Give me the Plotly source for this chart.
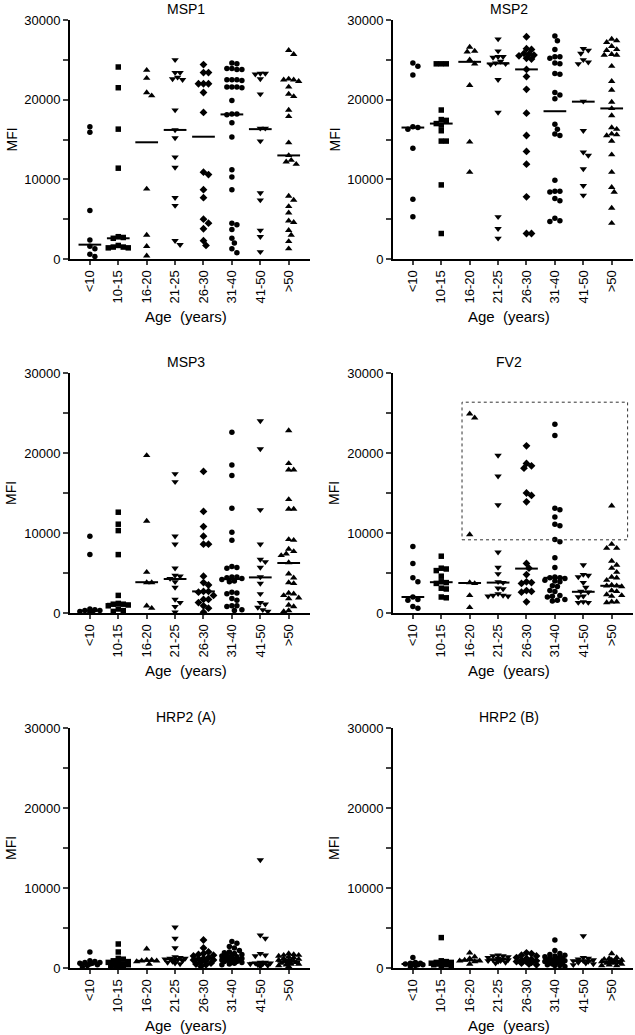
import plotly.graph_objects as go

# ---------------- data ----------------
CATEGORIES = ["<10", "10-15", "16-20", "21-25", "26-30", "31-40", "41-50", ">50"]
SYMBOLS = ["circle", "square", "triangle-up", "triangle-down", "diamond",
           "circle", "triangle-down", "triangle-up"]
Y_TICKS = [0, 5000, 10000, 15000, 20000, 25000, 30000]
Y_TICKTEXT = ["0", "", "10000", "", "20000", "", "30000"]

msp1 = [
    [16600, 15900, 6100, 2400, 1600, 1300, 600, 300],
    [24100, 21500, 16300, 11400, 2800, 2700, 2600, 1700, 1500, 1400, 1400, 1500],
    [23700, 22700, 20500, 20900, 8800, 3000, 1600, 400],
    [25000, 23400, 23400, 22800, 22500, 22600, 18700, 16200, 15200, 12800, 11500, 7700, 6700, 1800, 2300],
    [24400, 23400, 23400, 22000, 22000, 22000, 20900, 18400, 10600, 10900, 8700, 7700, 5000, 4500, 3800, 2300, 1700],
    [24500, 24600, 23900, 23800, 23800, 23900, 22500, 22500, 22400, 22500, 21600, 21600, 21500, 21600, 19900,
     18200, 18100, 18200, 17100, 15300, 11200, 10300, 8700, 4500, 4300, 3700, 2600, 2000, 1300, 800],
    [23300, 23200, 23300, 22600, 20700, 16400, 16400, 14800, 8300, 7400, 3600, 2800, 900],
    [26200, 25700, 22500, 22300, 22500, 22600, 21600, 20700, 20400, 18700, 17900, 14600, 13000, 12400, 12200,
     11900, 7900, 7400, 6600, 5800, 4800, 4600, 3600, 3000, 2200, 1300],
]
msp1_median = [1800, 2600, 14650, 16200, 15350, 18150, 16300, 13000]

msp2 = [
    [24600, 24200, 23100, 16500, 16300, 16600, 13900, 7500, 5300],
    [24500, 24500, 24500, 18700, 17400, 17000, 17500, 16800, 16100, 14800, 14800, 9300, 3200],
    [26600, 26100, 26000, 25000, 24500, 21800, 14700, 10900],
    [27600, 26100, 25400, 25300, 25400, 24800, 24600, 24500, 24400, 22500, 18400, 5300, 3800, 2600],
    [27900, 26400, 26300, 25800, 25600, 25500, 25700, 25200, 25100, 23800, 22900, 21300, 18300, 15500, 13500,
     11900, 7800, 3200, 3200],
    [28000, 27400, 26300, 25400, 25400, 25200, 24600, 24500, 23300, 23200, 20900, 20600, 20100, 16900, 16300,
     15700, 15500, 9900, 8500, 8400, 8500, 7600, 7300, 5100, 4700, 4800],
    [26400, 26200, 25800, 25000, 24700, 24500, 19800, 16100, 13400, 13000, 11300, 9200, 8000],
    [27600, 27400, 27200, 26700, 26300, 26200, 25600, 25700, 25600, 24200, 22300, 21200, 19700, 18900, 18000,
     16300, 16500, 15700, 15500, 15600, 14800, 13100, 10900, 9000, 8400, 6400, 4500],
]
msp2_median = [16500, 17000, 24750, 24550, 23800, 18550, 19750, 18900]

msp3 = [
    [9600, 7300, 500, 400, 300, 300, 200, 200, 100],
    [12600, 11100, 10300, 7300, 2200, 1200, 1100, 1100, 1000, 900, 500, 300, 200],
    [19700, 11500, 5100, 3800, 3800, 900, 600],
    [17400, 16400, 9600, 8600, 5600, 4600, 4700, 4300, 3900, 3200, 1700, 1300, 800, 100],
    [17700, 12700, 10800, 9600, 8600, 8600, 4600, 3800, 3500, 2700, 2600, 2700, 2200, 1700, 1700, 1300, 900, 600, 100],
    [22600, 18500, 17200, 13100, 10100, 9100, 5800, 5700, 5600, 4500, 4400, 4500, 4300, 4200, 3900, 4000,
     2600, 2500, 2400, 1800, 1600, 900, 900, 800, 400, 300],
    [24000, 20500, 12900, 8600, 6700, 6400, 5700, 4500, 3700, 2400, 1300, 1100, 700, 400, 200],
    [22800, 18700, 17900, 17900, 14200, 13000, 13000, 9200, 9100, 8000, 7700, 7400, 7200, 6300, 4900, 4400,
     3700, 3800, 2500, 2400, 2200, 1900, 1800, 1000, 800, 300, 200],
]
msp3_median = [300, 1150, 3850, 4250, 2700, 4250, 4450, 6250]

fv2 = [
    [8300, 6200, 4400, 3900, 2000, 1700, 1600, 800, 600],
    [7100, 5600, 5500, 5300, 4600, 3900, 3800, 3700, 3000, 3100, 1900, 2000],
    [24900, 24400, 9800, 3800, 3700, 2200, 700],
    [19700, 17100, 13500, 7600, 5700, 4900, 3900, 3800, 3100, 3000, 2400, 2200, 2100, 2100, 2200],
    [20900, 18700, 18100, 18400, 14700, 15000, 13900, 6200, 5600, 4800, 3900, 3800, 3700, 2800, 2700, 2600, 1400],
    [23600, 22200, 13100, 12900, 12000, 11100, 10900, 9200, 8900, 6900, 5700, 4500, 4400, 4400, 4300, 4100,
     4000, 3900, 3400, 3300, 2800, 2700, 2200, 2100, 2000, 1700, 1600, 1500],
    [6000, 4800, 4700, 4500, 3800, 3200, 2700, 2600, 2100, 2000, 1400, 1300, 1300],
    [13400, 8600, 8100, 8100, 6500, 6000, 5600, 5100, 4500, 4400, 4100, 3500, 3400, 3400, 3300, 2800, 2700,
     2300, 2200, 2100, 1400, 1400, 1300],
]
fv2_median = [2000, 3850, 3750, 3800, 5550, 4400, 2650, 3400]
fv2_box_x = [1.73, 7.56]
fv2_box_y = [9150, 26350]

hrp2a = [
    [2000, 900, 800, 700, 700, 600, 600, 500, 400, 300, 200],
    [3000, 2000, 1200, 1100, 900, 800, 700, 600, 500, 500, 400, 400, 300, 300, 200, 100],
    [2400, 1000, 1000, 900, 900, 800, 500],
    [5100, 3700, 2500, 1400, 1300, 1200, 1200, 1100, 1000, 1000, 900, 800, 700, 600, 500],
    [3500, 2500, 2000, 1800, 1700, 1600, 1500, 1300, 1200, 1100, 1000, 1000, 900, 700, 600, 500, 400, 200],
    [3300, 3100, 2700, 2500, 2200, 2000, 1900, 1800, 1700, 1600, 1600, 1500, 1400, 1300, 1300, 1200, 1200,
     1100, 1100, 1000, 1000, 900, 900, 800, 800, 700, 600, 500, 400],
    [13500, 4100, 3700, 1800, 1600, 1500, 700, 700, 600, 600, 500, 500, 400, 300, 200],
    [1800, 1700, 1600, 1600, 1500, 1400, 1300, 1200, 1100, 1000, 1000, 900, 900, 800, 800, 700, 700, 600,
     500, 500, 400, 300, 200],
]
hrp2a_median = [600, 550, 900, 1100, 1200, 1200, 650, 800]

hrp2b = [
    [1300, 700, 600, 600, 500, 500, 400, 400, 300, 200],
    [3800, 900, 800, 700, 700, 600, 600, 600, 500, 500, 400, 400, 300, 200],
    [1900, 1400, 1200, 1000, 900, 900, 800, 500],
    [1600, 1500, 1500, 1400, 1300, 1200, 1100, 1000, 1000, 900, 900, 800, 700, 600],
    [1900, 1800, 1600, 1500, 1300, 1200, 1100, 1000, 900, 800, 800, 700, 600, 500, 400],
    [3500, 2200, 1800, 1700, 1600, 1500, 1400, 1400, 1300, 1200, 1200, 1100, 1000, 1000, 900, 900, 800, 800,
     700, 700, 600, 500, 400, 300, 300, 200],
    [4000, 1300, 1200, 1100, 1000, 900, 900, 800, 700, 600, 500, 400],
    [1800, 1300, 1200, 1100, 1000, 1000, 900, 900, 800, 800, 700, 700, 600, 600, 500, 400, 300, 300],
]
hrp2b_median = [500, 600, 950, 1050, 900, 1000, 900, 800]

PANELS = [
    ("MSP1", msp1, msp1_median),
    ("MSP2", msp2, msp2_median),
    ("MSP3", msp3, msp3_median),
    ("FV2", fv2, fv2_median),
    ("HRP2 (A)", hrp2a, hrp2a_median),
    ("HRP2 (B)", hrp2b, hrp2b_median),
]

# ---------------- layout geometry (pixels) ----------------
W, H = 635, 1035
COLS = [(70, 310), (393, 633)]
ROWS = [(20, 259), (373, 613), (728, 968)]
X_RANGE = [-0.7, 7.75]
Y_MAX = 30000
FONT = "Arial, Liberation Sans, sans-serif"


def swarm_offsets(values, ppx_x, ppx_y, d=5.0, cap=11.0):
    """Deterministic beeswarm: spread points with similar values sideways,
    limited to +-cap pixels (crowded points overlap, as in the original)."""
    placed = []
    out = [0.0] * len(values)
    order = sorted(range(len(values)), key=lambda i: -values[i])
    cands = [0.0]
    j = 1
    while j * d / 2 <= cap:
        cands += [j * d / 2, -j * d / 2]
        j += 1
    for i in order:
        y = values[i] * ppx_y
        best, best_score = 0.0, -1.0
        for c in cands:
            md = min([((c - px) ** 2 + (y - py) ** 2) ** 0.5 for px, py in placed] or [99])
            if md >= d * 0.97:
                best = c
                break
            if md > best_score + 0.5:
                best, best_score = c, md
        placed.append((best, y))
        out[i] = best / ppx_x
    return out


fig = go.Figure()
layout = dict(width=W, height=H, margin=dict(l=0, r=0, t=0, b=0, autoexpand=False),
              plot_bgcolor="white", paper_bgcolor="white", showlegend=False,
              font=dict(family=FONT, color="black", size=13))
annotations = []

for k, (title, data, med) in enumerate(PANELS):
    r, c = divmod(k, 2)
    x0, x1 = COLS[c]
    ytop, ybot = ROWS[r]
    n = k + 1
    xa = "xaxis" if n == 1 else f"xaxis{n}"
    ya = "yaxis" if n == 1 else f"yaxis{n}"
    xr = "x" if n == 1 else f"x{n}"
    yr = "y" if n == 1 else f"y{n}"
    ppx_x = (x1 - x0) / (X_RANGE[1] - X_RANGE[0])
    ppx_y = (ybot - ytop) / Y_MAX

    layout[xa] = dict(domain=[x0 / W, x1 / W], range=X_RANGE, anchor=yr,
                      tickmode="array", tickvals=list(range(len(CATEGORIES))),
                      ticktext=CATEGORIES, tickangle=-90, ticks="outside", ticklen=4,
                      tickwidth=1.5, showline=True, linewidth=2, linecolor="black",
                      showgrid=False, zeroline=False, tickfont=dict(size=13),
                      fixedrange=True, automargin=False)
    layout[ya] = dict(domain=[1 - ybot / H, 1 - ytop / H], range=[0, Y_MAX], anchor=xr,
                      tickmode="array", tickvals=Y_TICKS, ticktext=Y_TICKTEXT,
                      ticks="outside", ticklen=5, tickwidth=1.5, showline=True,
                      linewidth=2, linecolor="black", showgrid=False, zeroline=False,
                      tickfont=dict(size=13), fixedrange=True, automargin=False)

    for i, vals in enumerate(data):
        offs = swarm_offsets(vals, ppx_x, ppx_y)
        sym = SYMBOLS[i]
        size = 6.5 if "triangle" in sym else (6 if sym == "diamond" else 5.5)
        fig.add_trace(go.Scatter(
            x=[i + o for o in offs], y=vals, xaxis=xr, yaxis=yr, mode="markers",
            marker=dict(symbol=sym, size=size, color="black", line=dict(width=0)),
            cliponaxis=False, hoverinfo="y"))

    mx, my = [], []
    for i, m in enumerate(med):
        mx += [i - 0.4, i + 0.4, None]
        my += [m, m, None]
    fig.add_trace(go.Scatter(x=mx, y=my, xaxis=xr, yaxis=yr, mode="lines",
                             line=dict(color="black", width=2), hoverinfo="skip"))

    cx = (x0 + x1) / 2 - 4
    annotations.append(dict(text=title, x=cx / W, y=1 - (ytop - 11) / H, xref="paper",
                            yref="paper", showarrow=False, font=dict(size=14),
                            xanchor="center", yanchor="middle"))
    annotations.append(dict(text="Age  (years)", x=cx / W, y=1 - (ybot + 57) / H,
                            xref="paper", yref="paper", showarrow=False,
                            font=dict(size=15), xanchor="center", yanchor="middle"))
    annotations.append(dict(text="MFI", x=(x0 - 59) / W, y=1 - ((ytop + ybot) / 2) / H,
                            xref="paper", yref="paper", showarrow=False, textangle=-90,
                            font=dict(size=14), xanchor="center", yanchor="middle"))

    if title == "FV2":
        fig.add_shape(type="rect", xref=xr, yref=yr, x0=fv2_box_x[0], x1=fv2_box_x[1],
                      y0=fv2_box_y[0], y1=fv2_box_y[1],
                      line=dict(color="#333333", width=1, dash="dot"))

layout["annotations"] = annotations
fig.update_layout(**layout)
fig.write_html("out.html", config={"displayModeBar": False},
               post_script="document.body.style.margin='0px';document.body.style.overflow='hidden';")
